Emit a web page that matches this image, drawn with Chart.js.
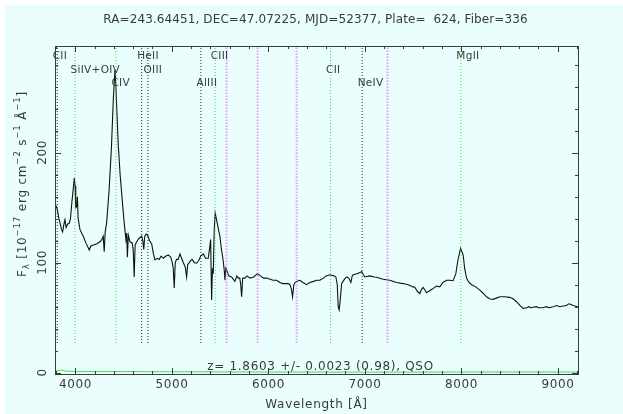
<!DOCTYPE html>
<html>
<head>
<meta charset="utf-8">
<script src="https://cdn.jsdelivr.net/npm/chart.js@4.4.1/dist/chart.umd.min.js"></script>
<style>
  html, body { margin: 0; padding: 0; background: #fff; }
  #wrap { position: absolute; left: 5px; top: 5px; width: 618px; height: 409px; background: #eafefe; }
</style>
</head>
<body>
<div id="wrap"><canvas id="spec"></canvas></div>
<script>
// spectrum (Angstrom, 1e-17 erg/cm2/s/A)
const wavelength = [
  3800, 3815, 3830, 3845, 3858, 3869, 3880, 3893, 3905, 3920, 3938, 3950, 3965, 3980, 3990, 3998,
  4005, 4015, 4022, 4030, 4049, 4083, 4110, 4145, 4160, 4186, 4220, 4256, 4275, 4290, 4300, 4310,
  4325, 4350, 4375, 4395, 4411, 4420, 4445, 4465, 4481, 4505, 4525, 4533, 4540, 4550, 4567, 4590,
  4601, 4611, 4620, 4636, 4660, 4688, 4700, 4710, 4720, 4735, 4750, 4770, 4792, 4810, 4826, 4850,
  4870, 4890, 4912, 4940, 4965, 4990, 5005, 5015, 5026, 5036, 5050, 5067, 5085, 5102, 5120, 5140,
  5154, 5165, 5188, 5210, 5235, 5258, 5280, 5300, 5326, 5350, 5378, 5395, 5403, 5413, 5422, 5430,
  5440, 5450, 5462, 5480, 5499, 5515, 5533, 5545, 5551, 5560, 5575, 5590, 5620, 5654, 5675, 5689,
  5705, 5715, 5724, 5735, 5758, 5780, 5810, 5850, 5886, 5920, 5950, 5983, 6020, 6050, 6087, 6120,
  6150, 6180, 6207, 6225, 6240, 6252, 6265, 6280, 6294, 6328, 6360, 6397, 6430, 6470, 6500, 6535,
  6570, 6600, 6639, 6680, 6701, 6715, 6725, 6735, 6745, 6760, 6790, 6812, 6835, 6856, 6870, 6880,
  6920, 6950, 6967, 6980, 7001, 7050, 7100, 7122, 7190, 7260, 7330, 7398, 7450, 7500, 7519, 7545,
  7571, 7590, 7605, 7625, 7640, 7700, 7744, 7778, 7810, 7848, 7880, 7916, 7944, 7965, 7993, 8020,
  8035, 8055, 8080, 8107, 8150, 8193, 8230, 8262, 8300, 8330, 8370, 8400, 8450, 8503, 8540, 8573,
  8610, 8641, 8680, 8700, 8720, 8745, 8780, 8800, 8848, 8880, 8910, 8952, 8990, 9020, 9056, 9090,
  9110, 9125, 9160, 9208
];
const flux = [
  152, 148, 140, 135, 130, 128, 134, 139, 132, 135, 136, 140, 155, 168, 177, 170,
  150, 151, 160, 140, 130, 124, 118, 111.5, 115, 116, 117, 119, 121, 124, 110, 128,
  136, 165, 205, 250, 275, 262, 208, 180, 163, 138, 121, 127, 105, 125, 119, 118,
  111, 87, 116, 119, 122, 124, 120, 112, 124, 126, 125, 120, 117, 108, 102.5, 104,
  103, 106, 104, 106, 107, 105, 100, 95, 77, 100, 103, 103, 108, 104, 100, 96,
  87, 98, 101, 103, 100, 99.5, 102, 106, 108, 104, 104, 115, 121, 66, 95, 90,
  130, 145, 140, 132, 124, 112, 102, 92, 84, 95, 92, 88, 87, 83, 88, 86,
  86, 80, 69, 86, 86, 88, 86, 87, 90, 88, 86, 86, 85, 84, 84, 82,
  81, 81, 81, 80, 76, 69, 80, 82, 83, 84, 82, 80, 82, 83, 84, 84,
  86, 88, 89, 88, 87, 80, 60, 57, 65, 81, 85, 87, 86, 82, 88, 89,
  90, 91, 92, 90, 87, 88, 87, 86.7, 85, 84, 82, 81, 80, 78, 77.6, 74,
  72, 76, 77.6, 75, 72.7, 76, 78.8, 78, 82, 84, 84, 83.6, 90, 102, 113, 107,
  95, 86, 82, 80, 78, 75, 72, 69, 67, 66.7, 68, 69, 69, 68.5, 67, 64.5,
  61, 58.5, 59, 60, 59, 59.5, 60, 59, 59, 60, 59, 60, 61, 60, 60.6, 61,
  62.5, 62.5, 61, 60
];
// near-zero green curve at the bottom
const errWavelength = [3800, 3850, 3900, 4000, 4500, 5000, 6000, 7000, 8000, 9208];
const errFlux = [1.5, 2.5, 1.5, 1, 1, 0.8, 0.6, 0.5, 0.6, 0.6];

// marked lines
const lineNames = ['CII', 'SiIV+OIV', 'CIV', 'HeII', 'OIII', 'AlIII', 'CIII', 'CII', 'NeIV', 'MgII'];
const lineWaves = [3813, 3997, 4422, 4688, 4753, 5302, 5450, 6646, 6973, 7996];
const lineStrong = [false, true, true, false, false, false, true, true, false, true];
const skyWaves = [5568, 5890, 6294, 7236];
const markerFrom = 27;

const xTicks = [4000, 5000, 6000, 7000, 8000, 9000];
const yTicks = [0, 100, 200];
const titleText = 'RA=243.64451, DEC=47.07225, MJD=52377, Plate=  624, Fiber=336';
const fitText = 'z= 1.8603 +/- 0.0023 (0.98), QSO';

const X_MIN = 3790, X_MAX = 9210, Y_MIN = -1.2, Y_MAX = 297;
const INK = '#3a3a3a';
const FONT = '"DejaVu Sans", sans-serif';

const datasets = [];
lineWaves.forEach(function (w, i) {
  datasets.push({
    data: [{ x: w, y: markerFrom }, { x: w, y: Y_MAX }],
    borderColor: lineStrong[i] ? '#3ada3a' : '#222',
    borderWidth: 1,
    borderDash: [1, 2]
  });
});
skyWaves.forEach(function (w) {
  datasets.push({
    data: [{ x: w, y: markerFrom }, { x: w, y: Y_MAX }],
    borderColor: 'rgba(220,110,225,0.65)',
    borderWidth: 2,
    borderDash: [1.5, 1.5]
  });
});
datasets.push({
  data: errWavelength.map(function (w, i) { return { x: w, y: errFlux[i] }; }),
  borderColor: '#44dd44',
  borderWidth: 1
});
datasets.push({
  data: wavelength.map(function (w, i) { return { x: w, y: flux[i] }; }),
  borderColor: '#111',
  borderWidth: 1.1
});
datasets.forEach(function (d) {
  d.showLine = true;
  d.pointRadius = 0;
  d.tension = 0;
  d.fill = false;
});

// draws text made of pieces with sub/superscripts, centred on 0
function richText(ctx, parts, size) {
  let total = 0;
  parts.forEach(function (p) {
    ctx.font = (p.sup || p.sub ? size * 0.72 : size) + 'px ' + FONT;
    p.w = ctx.measureText(p.t).width;
    total += p.w;
  });
  let x = -total / 2;
  parts.forEach(function (p) {
    ctx.font = (p.sup || p.sub ? size * 0.72 : size) + 'px ' + FONT;
    ctx.fillText(p.t, x, p.sup ? -size * 0.45 : (p.sub ? size * 0.3 : 0));
    x += p.w;
  });
}

function spaced(ctx, px) {
  if ('letterSpacing' in ctx) ctx.letterSpacing = px + 'px';
}

const framePlugin = {
  id: 'frame',
  afterDatasetsDraw: function (chart) {
    const ctx = chart.ctx;
    const ca = chart.chartArea;
    const xs = chart.scales.x, ys = chart.scales.y;
    const midX = (ca.left + ca.right) / 2;
    ctx.save();
    ctx.strokeStyle = INK;
    ctx.lineWidth = 1;
    ctx.strokeRect(ca.left + 0.5, ca.top + 0.5, ca.right - ca.left, ca.bottom - ca.top);

    ctx.beginPath();
    for (let v = 3800; v <= 9200; v += 200) {
      const px = Math.round(xs.getPixelForValue(v)) + 0.5;
      const len = v % 1000 === 0 ? 6 : 3;
      ctx.moveTo(px, ca.bottom); ctx.lineTo(px, ca.bottom - len);
      ctx.moveTo(px, ca.top); ctx.lineTo(px, ca.top + len);
    }
    for (let v = 0; v <= 280; v += 20) {
      const py = Math.round(ys.getPixelForValue(v)) + 0.5;
      const len = v % 100 === 0 ? 6 : 3;
      ctx.moveTo(ca.left, py); ctx.lineTo(ca.left + len, py);
      ctx.moveTo(ca.right, py); ctx.lineTo(ca.right - len, py);
    }
    ctx.stroke();

    ctx.fillStyle = INK;
    ctx.textBaseline = 'middle';
    ctx.textAlign = 'center';
    ctx.font = '12px ' + FONT;
    spaced(ctx, 0.6);
    xTicks.forEach(function (v) {
      ctx.fillText(String(v), xs.getPixelForValue(v) + 0.3, ca.bottom + 11);
    });
    yTicks.forEach(function (v) {
      ctx.save();
      ctx.translate(ca.left - 12, ys.getPixelForValue(v));
      ctx.rotate(-Math.PI / 2);
      ctx.fillText(String(v), 0.3, 0);
      ctx.restore();
    });

    spaced(ctx, 0.7);
    ctx.fillText('Wavelength [Å]', midX, ca.bottom + 31);
    ctx.fillText(fitText, midX + 4, ca.bottom - 7);
    spaced(ctx, 0.1);
    ctx.fillText(titleText, midX - 1, 15);

    ctx.save();
    ctx.translate(ca.left - 32, 179);
    ctx.rotate(-Math.PI / 2);
    ctx.textAlign = 'left';
    spaced(ctx, 0.8);
    richText(ctx, [
      { t: 'F' }, { t: 'λ', sub: true }, { t: ' [10' }, { t: '−17', sup: true },
      { t: ' erg cm' }, { t: '−2', sup: true }, { t: ' s' }, { t: '−1', sup: true },
      { t: ' Å' }, { t: '−1', sup: true }, { t: ']' }
    ], 12);
    ctx.restore();

    ctx.font = '10.5px ' + FONT;
    ctx.textAlign = 'left';
    spaced(ctx, 0.3);
    lineNames.forEach(function (name, i) {
      const px = xs.getPixelForValue(lineWaves[i]);
      ctx.fillText(name, px - 4.5, ca.top + 10.5 + (i % 3) * 13.3);
    });
    ctx.restore();
  }
};

new Chart(document.getElementById('spec'), {
  type: 'scatter',
  data: { datasets: datasets },
  options: {
    responsive: true,
    maintainAspectRatio: false,
    animation: false,
    layout: { padding: { left: 50, top: 41, right: 45, bottom: 40 } },
    plugins: { legend: { display: false }, tooltip: { enabled: false } },
    scales: {
      x: { type: 'linear', min: X_MIN, max: X_MAX, display: false },
      y: { type: 'linear', min: Y_MIN, max: Y_MAX, display: false }
    }
  },
  plugins: [framePlugin]
});
</script>
</body>
</html>
